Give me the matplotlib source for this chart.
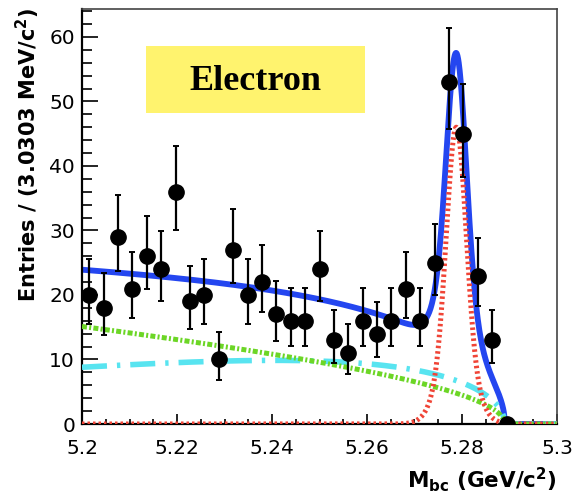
import numpy as np
import matplotlib
matplotlib.use('Agg')
import matplotlib.pyplot as plt
from matplotlib.patches import Rectangle

# histogram: 33 bins of 3.0303 MeV between 5.20 and 5.30 GeV
bin_lo = 5.20
bin_w = 0.1 / 33
counts = [20, 18, 29, 21, 26, 24, 36, 19, 20, 10, 27, 20, 22, 17, 16,
          16, 24, 13, 11, 16, 14, 16, 21, 16, 25, 53, 45, 23, 13, 0]

# fit components (ARGUS backgrounds + double gaussian signal)
endpoint = 5.289
green_norm, green_c = 14.4, 3.0      # continuum-like
cyan_norm, cyan_c = 22.8, -27.0      # B-Bbar like
sig_amp, sig_mean = 46.0, 5.2788
sig_s1, sig_s2, sig_frac = 0.0020, 0.0034, 0.25


def argus(m, norm, c):
    z = np.clip(1 - (m / endpoint) ** 2, 0, None)
    return norm * m * np.sqrt(z) * np.exp(c * z)


def signal(m):
    d = m - sig_mean
    return sig_amp * ((1 - sig_frac) * np.exp(-0.5 * (d / sig_s1) ** 2)
                      + sig_frac * np.exp(-0.5 * (d / sig_s2) ** 2))


def poisson_err(n):
    # Gehrels approximation, as ROOT draws it; empty bins get no bar
    n = np.asarray(n, dtype=float)
    up = np.where(n > 0, np.sqrt(n + 0.75) + 1, 0)
    safe = np.where(n > 0, n, 1)
    lo = np.where(n > 0, n - n * (1 - 1 / (9 * safe) - 1 / (3 * np.sqrt(safe))) ** 3, 0)
    return lo, up


centers = bin_lo + (np.arange(len(counts)) + 0.5) * bin_w
err_lo, err_up = poisson_err(counts)

m = np.linspace(5.2, 5.3, 1500)
green = argus(m, green_norm, green_c)
cyan = argus(m, cyan_norm, cyan_c)
red = signal(m)
total = green + cyan + red

fig = plt.figure(figsize=(5.73, 4.97), dpi=100)
ax = fig.add_axes([82 / 573, 1 - 424 / 497, 475 / 573, 415.5 / 497])

ax.plot(m, total, color='#2446f0', lw=4.2, solid_capstyle='butt', zorder=2)
ax.plot(m, cyan, color='#58e4f0', lw=4.0, ls=(0, (4.5, 1.8, 0.6, 1.8)), zorder=3)
ax.plot(m, green, color='#6cd626', lw=3.6, ls=(0, (1.0, 0.45, 0.4, 0.45)), zorder=3)
ax.plot(m, red, color='#f04436', lw=3.6, ls=(0, (0.5, 0.6)), zorder=4)

ax.errorbar(centers, counts, yerr=[err_lo, err_up], fmt='o', color='black',
            ms=11, elinewidth=1.6, capsize=2.5, capthick=1.4, zorder=5)

ax.add_patch(Rectangle((0.1347, 0.7485), 0.4611, 0.1615, transform=ax.transAxes,
                       facecolor='#fff36e', edgecolor='none', zorder=1))
ax.text(0.365, 0.825, 'Electron', transform=ax.transAxes, ha='center', va='center',
        family='Liberation Serif', fontweight='bold', fontsize=26, zorder=6)

ax.set_xlim(5.2, 5.3)
ax.set_ylim(0, 64.4)
ax.set_xticks([5.2, 5.22, 5.24, 5.26, 5.28, 5.3])
ax.set_xticklabels(['5.2', '5.22', '5.24', '5.26', '5.28', '5.3'])
ax.set_xticks(np.arange(5.2, 5.3001, 0.005), minor=True)
ax.set_yticks(range(0, 61, 10))
ax.set_yticks(range(0, 65, 2), minor=True)

ax.tick_params(axis='both', which='both', direction='in', labelsize=14.5,
               top=False, right=False)
ax.tick_params(axis='y', which='major', length=11.5, width=1.2, pad=5)
ax.tick_params(axis='y', which='minor', length=7, width=1.2)
ax.tick_params(axis='x', which='major', length=7, width=1.2, pad=11)
ax.tick_params(axis='x', which='minor', length=3.5, width=1.2)

for side in ['left', 'bottom']:
    ax.spines[side].set_linewidth(1.6)
for side in ['top', 'right']:
    ax.spines[side].set_linewidth(1.2)
    ax.spines[side].set_color('#444444')

fig.text(28 / 573, 1 - 8 / 497, 'Entries / (3.0303 MeV/c$^{\\mathbf{2}}$)',
         rotation=90, ha='center', va='top', fontweight='bold', fontsize=15)
fig.text(557 / 573, 1 - 480 / 497, 'M$_{\\mathbf{bc}}$ (GeV/c$^{\\mathbf{2}}$)',
         ha='right', va='center', fontweight='bold', fontsize=15.5)

fig.savefig('out.png', dpi=100)
